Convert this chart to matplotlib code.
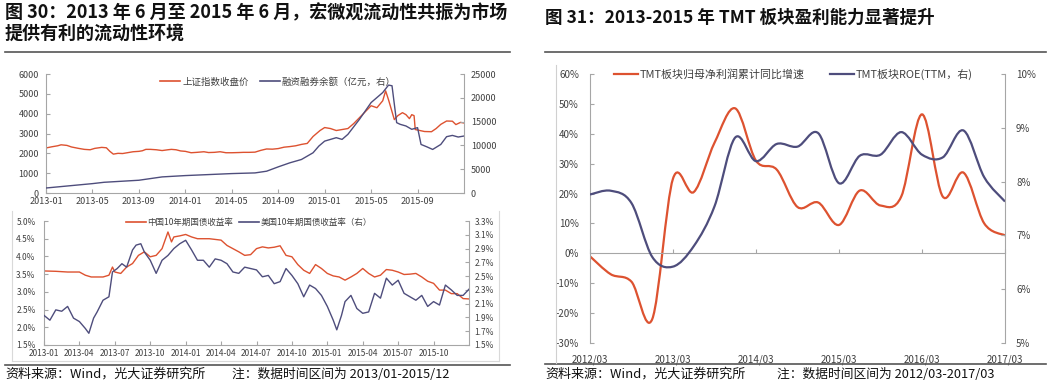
import numpy as np
import matplotlib
matplotlib.use('Agg')
import matplotlib.pyplot as plt
from matplotlib.path import Path
from matplotlib.patches import PathPatch
from matplotlib.lines import Line2D

plt.rcParams['font.family'] = ['Noto Sans CJK SC', 'DejaVu Sans']

W, H = 1055, 387
RED = '#DD5230'
NAVY = '#4E4D7C'
GRAY = '#A6A6A6'
TXT = '#404040'

# ---- 图30 上: 上证指数 / 融资融券余额 (months since 2013-01) ----
sse_month = [0, 0.5, 1, 1.3, 1.8, 2.2, 2.8, 3.3, 3.8, 4.2, 4.8, 5.2, 5.5, 5.8, 6.2, 6.6, 7, 7.5, 8, 8.3,
             8.6, 9, 9.5, 10, 10.5, 10.8, 11.2, 11.6, 12, 12.5, 13, 13.6, 14, 14.5, 15, 15.5, 16, 16.6,
             17, 17.5, 18, 18.5, 19, 19.5, 20, 20.5, 21, 21.5, 22, 22.5, 23, 23.3, 23.6, 24, 24.5, 25,
             25.5, 26, 26.5, 27, 27.5, 28, 28.5, 29, 29.25, 29.5, 29.75, 30, 30.3, 30.7, 31, 31.3, 31.5,
             31.7, 31.8, 32.2, 32.6, 33.2, 33.6, 34, 34.5, 35, 35.3, 35.7, 36]
sse_close = [2270, 2330, 2380, 2430, 2400, 2320, 2250, 2200, 2180, 2250, 2300, 2280, 2100, 1960, 2000,
             1990, 2030, 2080, 2100, 2130, 2200, 2200, 2180, 2140, 2180, 2200, 2180, 2120, 2100, 2030,
             2050, 2080, 2040, 2050, 2080, 2030, 2030, 2040, 2050, 2050, 2060, 2150, 2220, 2210, 2240,
             2310, 2340, 2380, 2450, 2500, 2850, 3000, 3150, 3300, 3250, 3150, 3200, 3250, 3500, 3800,
             4100, 4400, 4300, 4650, 5150, 4700, 4200, 3700, 3900, 4050, 3950, 3750, 3950, 3900, 3200,
             3150, 3100, 3090, 3250, 3460, 3630, 3620, 3450, 3560, 3530]

margin_month = [0, 4, 5, 8, 10, 12, 14, 16, 18, 19, 20, 21, 22, 23, 23.5, 24, 25, 25.5, 26, 27, 28,
                29, 29.5, 29.8, 30.2, 30.5, 31, 31.5, 32, 32.3, 32.8, 33.3, 34, 34.5, 35, 35.5, 36]
margin_bal = [1050, 1970, 2250, 2680, 3380, 3660, 3870, 4080, 4220, 4580, 5490, 6340, 7040, 8450, 9860,
              10900, 11620, 11260, 12320, 15490, 19000, 21100, 22670, 22530, 14780, 14430, 14080,
              13380, 13730, 10200, 9700, 9150, 10200, 11830, 12100, 11760, 11970]

top_ticks = [0, 4, 8, 12, 16, 20, 24, 28, 32]
top_labels = ['2013-01', '2013-05', '2013-09', '2014-01', '2014-05', '2014-09', '2015-01', '2015-05', '2015-09']

# ---- 图30 下: 中美10年期国债收益率 ----
cn_month = [0, 1, 2, 3, 3.5, 4, 5, 5.5, 5.8, 6, 6.5, 7, 7.5, 8, 8.5, 9, 9.5, 10, 10.5, 10.8, 11, 11.5,
            12, 12.5, 13, 14, 15, 15.5, 16, 16.5, 17, 17.5, 18, 18.5, 19, 19.5, 20, 20.5, 21, 21.5, 22,
            22.5, 23, 23.5, 24, 24.5, 25, 25.5, 26, 26.5, 27, 27.5, 28, 28.5, 29, 29.5, 30, 30.5, 31,
            31.5, 32, 32.5, 33, 33.5, 34, 34.5, 35, 35.5, 36]
cn10y = [3.59, 3.58, 3.56, 3.56, 3.47, 3.42, 3.42, 3.47, 3.70, 3.56, 3.52, 3.70, 3.80, 4.03, 4.13, 3.99,
         4.03, 4.22, 4.69, 4.41, 4.55, 4.58, 4.62, 4.55, 4.50, 4.50, 4.46, 4.31, 4.22, 4.13, 4.03, 4.05,
         4.22, 4.27, 4.24, 4.26, 4.30, 4.03, 3.99, 3.77, 3.61, 3.52, 3.77, 3.66, 3.52, 3.45, 3.42, 3.33,
         3.42, 3.52, 3.66, 3.52, 3.42, 3.47, 3.63, 3.61, 3.56, 3.49, 3.50, 3.52, 3.42, 3.30, 3.24, 3.05,
         3.05, 2.95, 2.95, 2.81, 2.80]

us_month = [0, 0.5, 1, 1.5, 2, 2.5, 3, 3.5, 3.8, 4.2, 4.5, 5, 5.5, 5.8, 6.2, 6.6, 7, 7.5, 7.8, 8.2, 8.5,
            9, 9.5, 10, 10.5, 11, 11.5, 12, 12.5, 13, 13.5, 14, 14.5, 15, 15.5, 16, 16.5, 17, 17.5, 18,
            18.5, 19, 19.5, 20, 20.5, 21, 21.5, 22, 22.5, 23, 23.5, 24, 24.5, 24.8, 25.2, 25.5, 26, 26.5,
            27, 27.5, 28, 28.5, 29, 29.5, 30, 30.5, 31, 31.5, 32, 32.5, 33, 33.5, 34, 34.5, 35, 35.5, 36]
us10y = [1.93, 1.86, 2.01, 1.99, 2.06, 1.89, 1.84, 1.74, 1.67, 1.89, 1.98, 2.15, 2.20, 2.56, 2.61, 2.68,
         2.63, 2.88, 2.95, 2.97, 2.85, 2.73, 2.54, 2.73, 2.80, 2.90, 2.97, 3.02, 2.88, 2.73, 2.73, 2.63,
         2.75, 2.73, 2.68, 2.56, 2.54, 2.63, 2.61, 2.59, 2.49, 2.51, 2.39, 2.42, 2.61, 2.51, 2.39, 2.20,
         2.37, 2.32, 2.22, 2.06, 1.86, 1.72, 1.93, 2.13, 2.22, 2.03, 1.96, 1.98, 2.25, 2.18, 2.47, 2.37,
         2.44, 2.25, 2.20, 2.15, 2.22, 2.06, 2.13, 2.08, 2.37, 2.30, 2.22, 2.22, 2.31]

bot_ticks = [0, 3, 6, 9, 12, 15, 18, 21, 24, 27, 30, 33]
bot_labels = ['2013-01', '2013-04', '2013-07', '2013-10', '2014-01', '2014-04', '2014-07', '2014-10',
              '2015-01', '2015-04', '2015-07', '2015-10']

# ---- 图31: TMT 季度数据 2012/03 - 2017/03 ----
quarters = np.arange(21)
profit_yoy = [-1, -7, -9.5, -22, 25, 20.5, 37, 48.5, 31, 28, 15.5, 17, 9.5, 21, 16, 19, 46.5, 19, 27, 10, 6]
roe_ttm = [7.76, 7.83, 7.6, 6.6, 6.42, 6.8, 7.54, 8.82, 8.38, 8.7, 8.65, 8.9, 7.97, 8.48, 8.5, 8.92,
           8.5, 8.45, 8.95, 8.08, 7.63]
tmt_ticks = [0, 4, 8, 12, 16, 20]
tmt_labels = ['2012/03', '2013/03', '2014/03', '2015/03', '2016/03', '2017/03']


def box(x0, y0, x1, y1):
    return [x0 / W, 1 - y1 / H, (x1 - x0) / W, (y1 - y0) / H]


def ftext(x, y, s, **kw):
    fig.text(x / W, 1 - y / H, s, **kw)


def hline(x0, x1, y, **kw):
    fig.add_artist(Line2D([x0 / W, x1 / W], [1 - y / H] * 2, **kw))


def vline(x, y0, y1, **kw):
    fig.add_artist(Line2D([x / W] * 2, [1 - y0 / H, 1 - y1 / H], **kw))


def smooth_path(x, y):
    # excel-like smoothed line: bezier through every point
    x = np.asarray(x, float); y = np.asarray(y, float)
    xp = np.r_[x[0], x, x[-1]]; yp = np.r_[y[0], y, y[-1]]
    verts = [(x[0], y[0])]; codes = [Path.MOVETO]
    for i in range(len(x) - 1):
        c1 = (x[i] + (xp[i + 2] - xp[i]) / 6, y[i] + (yp[i + 2] - yp[i]) / 6)
        c2 = (x[i + 1] - (xp[i + 3] - xp[i + 1]) / 6, y[i + 1] - (yp[i + 3] - yp[i + 1]) / 6)
        verts += [c1, c2, (x[i + 1], y[i + 1])]
        codes += [Path.CURVE4] * 3
    return Path(verts, codes)


def style(ax, tw, size, pad):
    for a in (ax, tw):
        a.spines['top'].set_visible(False)
        for s in a.spines.values():
            s.set_color(GRAY)
            s.set_linewidth(0.8)
        a.tick_params(direction='in', length=3, color=GRAY, labelsize=size, labelcolor=TXT, pad=pad)
    ax.spines['right'].set_visible(False)
    tw.spines['left'].set_visible(False)
    tw.spines['bottom'].set_visible(False)


fig = plt.figure(figsize=(W / 100, H / 100), dpi=100)

# titles and rules
ftext(5, 13, '图 30：2013 年 6 月至 2015 年 6 月，宏微观流动性共振为市场', fontsize=13.0,
      fontweight='bold', va='center', color='#111111')
ftext(5, 33, '提供有利的流动性环境', fontsize=13.0, fontweight='bold', va='center', color='#111111')
ftext(545, 18, '图 31：2013-2015 年 TMT 板块盈利能力显著提升', fontsize=12.6, fontweight='bold',
      va='center', color='#111111')
hline(5, 510, 52, color='#555555', lw=1.2)
hline(545, 1046, 52, color='#555555', lw=1.2)
hline(5, 510, 365, color='#555555', lw=1.2)
hline(545, 1046, 364, color='#555555', lw=1.2)
ftext(5, 374, '资料来源：Wind，光大证券研究所', fontsize=9.4, va='center', color='#111111')
ftext(232, 374, '注：数据时间区间为 2013/01-2015/12', fontsize=9.2, va='center', color='#111111')
ftext(545, 374, '资料来源：Wind，光大证券研究所', fontsize=9.4, va='center', color='#111111')
ftext(777, 374, '注：数据时间区间为 2012/03-2017/03', fontsize=9.2, va='center', color='#111111')

# faint image frames
for x in (12, 499):
    vline(x, 211, 361, color='#D9D9D9', lw=0.8)
hline(12, 499, 361, color='#D9D9D9', lw=0.8)
vline(556, 65, 363, color='#D0D0D0', lw=0.8)

# ---- top-left ----
ax1 = fig.add_axes(box(46, 74, 464, 193))
tw1 = ax1.twinx()
ax1.plot(sse_month, sse_close, color=RED, lw=1.0)
tw1.plot(margin_month, margin_bal, color=NAVY, lw=1.0)
ax1.set_xlim(0, 36)
ax1.set_ylim(0, 6000)
ax1.set_yticks(range(0, 6001, 1000))
tw1.set_ylim(0, 25000)
tw1.set_yticks(range(0, 25001, 5000))
ax1.set_xticks(top_ticks, top_labels)
style(ax1, tw1, 6.5, 5)
ax1.tick_params(axis='x', pad=3)
ax1.legend([Line2D([], [], color=RED, lw=1.2), Line2D([], [], color=NAVY, lw=1.2)],
           ['上证指数收盘价', '融资融券余额（亿元，右）'], loc='center', bbox_to_anchor=(0.555, 0.935),
           ncol=2, frameon=False, fontsize=6.8, handlelength=2.1, handletextpad=0.2,
           columnspacing=1.2, labelcolor=TXT)

# ---- bottom-left ----
ax2 = fig.add_axes(box(44, 221, 469, 345))
tw2 = ax2.twinx()
ax2.plot(cn_month, cn10y, color=RED, lw=1.0)
tw2.plot(us_month, us10y, color=NAVY, lw=1.0)
ax2.set_xlim(0, 36)
ax2.set_ylim(1.5, 5.0)
ax2.set_yticks(np.arange(1.5, 5.01, 0.5))
ax2.set_yticklabels([f'{v:.1f}%' for v in np.arange(1.5, 5.01, 0.5)])
tw2.set_ylim(1.5, 3.3)
tw2.set_yticks(np.arange(1.5, 3.31, 0.2))
tw2.set_yticklabels([f'{v:.1f}%' for v in np.arange(1.5, 3.31, 0.2)])
ax2.set_xticks(bot_ticks, bot_labels)
style(ax2, tw2, 6, 4)
ax2.tick_params(axis='y', pad=6)
ax2.tick_params(axis='x', pad=3)
ax2.legend([Line2D([], [], color=RED, lw=1.2), Line2D([], [], color=NAVY, lw=1.2)],
           ['中国10年期国债收益率', '美国10年期国债收益率（右）'], loc='center',
           bbox_to_anchor=(0.482, 0.985), ncol=2, frameon=False, fontsize=6.1,
           handlelength=2.4, handletextpad=0.1, columnspacing=0.7, labelcolor=TXT)

# ---- right ----
ax3 = fig.add_axes(box(590, 74, 1005, 343))
tw3 = ax3.twinx()
ax3.add_patch(PathPatch(smooth_path(quarters, profit_yoy), fill=False, edgecolor=RED, lw=1.6))
tw3.add_patch(PathPatch(smooth_path(quarters, roe_ttm), fill=False, edgecolor=NAVY, lw=1.6))
ax3.set_xlim(0, 20)
ax3.set_ylim(-30, 60)
ax3.set_yticks(range(-30, 61, 10))
ax3.set_yticklabels([f'{v}%' for v in range(-30, 61, 10)])
tw3.set_ylim(5, 10)
tw3.set_yticks(range(5, 11))
tw3.set_yticklabels([f'{v}%' for v in range(5, 11)])
style(ax3, tw3, 7, 8)
ax3.spines['bottom'].set_position(('data', 0))
ax3.set_xticks(tmt_ticks, tmt_labels)
ax3.tick_params(axis='x', pad=73, labelsize=7)
ax3.legend([Line2D([], [], color=RED, lw=1.6), Line2D([], [], color=NAVY, lw=1.6)],
           ['TMT板块归母净利润累计同比增速', 'TMT板块ROE(TTM，右)'], loc='center',
           bbox_to_anchor=(0.489, 1.0), ncol=2, frameon=False, fontsize=7.9,
           handlelength=2.2, handletextpad=0.15, columnspacing=2.3, labelcolor=TXT)

fig.savefig('out.png', dpi=100)
